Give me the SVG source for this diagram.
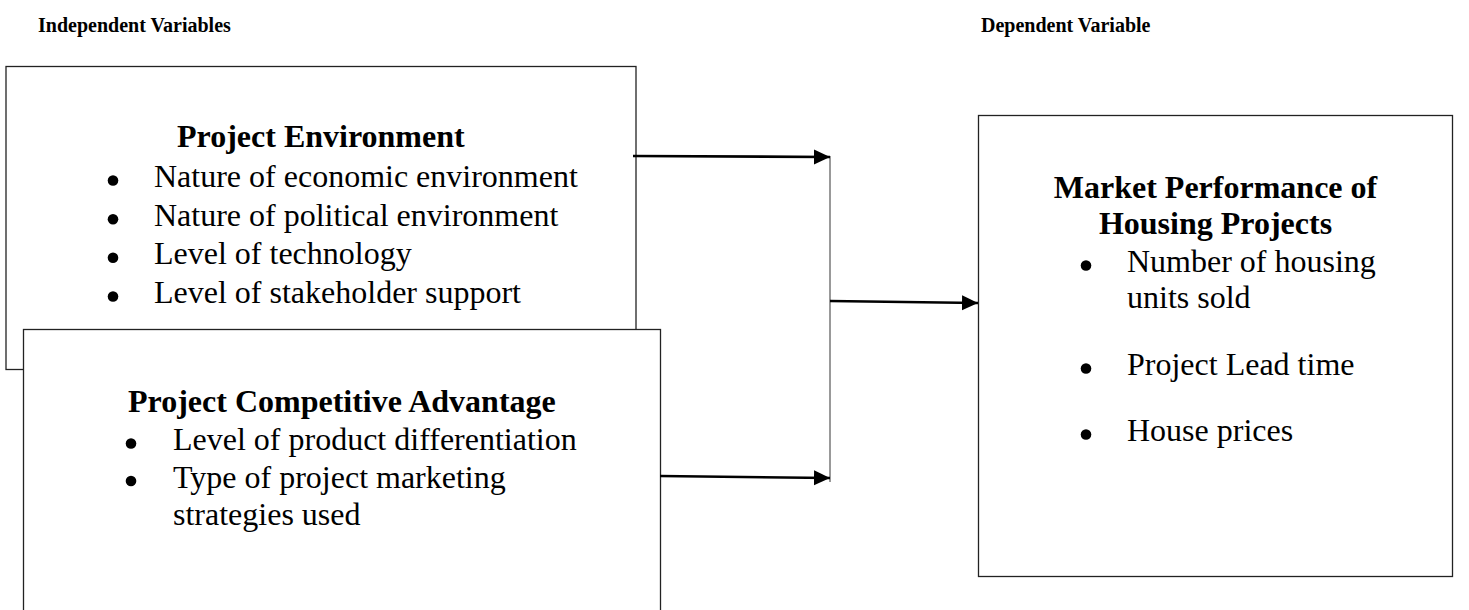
<svg xmlns="http://www.w3.org/2000/svg" width="1469" height="610" viewBox="0 0 1469 610">
<style>
.hdr{font-family:"Liberation Serif","Times New Roman",serif;font-size:20px;font-weight:bold;fill:#000}
.ttl{font-family:"Liberation Serif","Times New Roman",serif;font-size:32px;font-weight:bold;fill:#000}
.itm{font-family:"Liberation Serif","Times New Roman",serif;font-size:32px;fill:#000}
.box{fill:#fff;stroke:#222;stroke-width:1.3}
.dot{fill:#000}
.arr{stroke:#000;stroke-width:2.6;fill:none;marker-end:url(#ah)}
</style>
<defs>
<marker id="ah" markerUnits="userSpaceOnUse" markerWidth="17" markerHeight="16" refX="16" refY="7.5" orient="auto">
<path d="M0,0 L16,7.5 L0,15 z" fill="#000"/>
</marker>
</defs>
<rect width="1469" height="610" fill="#fff"/>
<g id="headers">
<text class="hdr" x="38" y="32">Independent Variables</text>
<text class="hdr" x="981" y="32">Dependent Variable</text>
</g>
<g id="node-project-environment">
<rect class="box" x="6" y="66.5" width="630" height="303"/>
<text class="ttl" x="177" y="147">Project Environment</text>
<circle class="dot" cx="113" cy="180.5" r="5.3"/>
<text class="itm" x="154" y="187">Nature of economic environment</text>
<circle class="dot" cx="113" cy="219.2" r="5.3"/>
<text class="itm" x="154" y="225.7">Nature of political environment</text>
<circle class="dot" cx="113" cy="257.8" r="5.3"/>
<text class="itm" x="154" y="264.3">Level of technology</text>
<circle class="dot" cx="113" cy="296.5" r="5.3"/>
<text class="itm" x="154" y="303">Level of stakeholder support</text>
</g>
<g id="node-project-competitive-advantage">
<rect class="box" x="23.5" y="329.5" width="637" height="300" stroke="#000"/>
<text class="ttl" x="128" y="412">Project Competitive Advantage</text>
<circle class="dot" cx="131" cy="443.5" r="5.3"/>
<text class="itm" x="173" y="450">Level of product differentiation</text>
<circle class="dot" cx="131" cy="481" r="5.3"/>
<text class="itm" x="173" y="487.5">Type of project marketing</text>
<text class="itm" x="173" y="525">strategies used</text>
</g>
<g id="node-market-performance">
<rect class="box" x="978.5" y="115.5" width="474" height="461"/>
<text class="ttl" x="1215.5" y="198" text-anchor="middle">Market Performance of</text>
<text class="ttl" x="1215.5" y="234" text-anchor="middle">Housing Projects</text>
<circle class="dot" cx="1086" cy="265.5" r="5.3"/>
<text class="itm" x="1127" y="272">Number of housing</text>
<text class="itm" x="1127" y="307.5">units sold</text>
<circle class="dot" cx="1086" cy="368.5" r="5.3"/>
<text class="itm" x="1127" y="375">Project Lead time</text>
<circle class="dot" cx="1086" cy="434.5" r="5.3"/>
<text class="itm" x="1127" y="441">House prices</text>
</g>
<g id="connectors">
<line x1="830" y1="156" x2="830" y2="482" stroke="#999" stroke-width="2"/>
<line class="arr" x1="633" y1="156" x2="830" y2="157"/>
<line class="arr" x1="660" y1="476" x2="830" y2="478"/>
<line class="arr" x1="830" y1="301" x2="978" y2="303"/>
</g>
</svg>
